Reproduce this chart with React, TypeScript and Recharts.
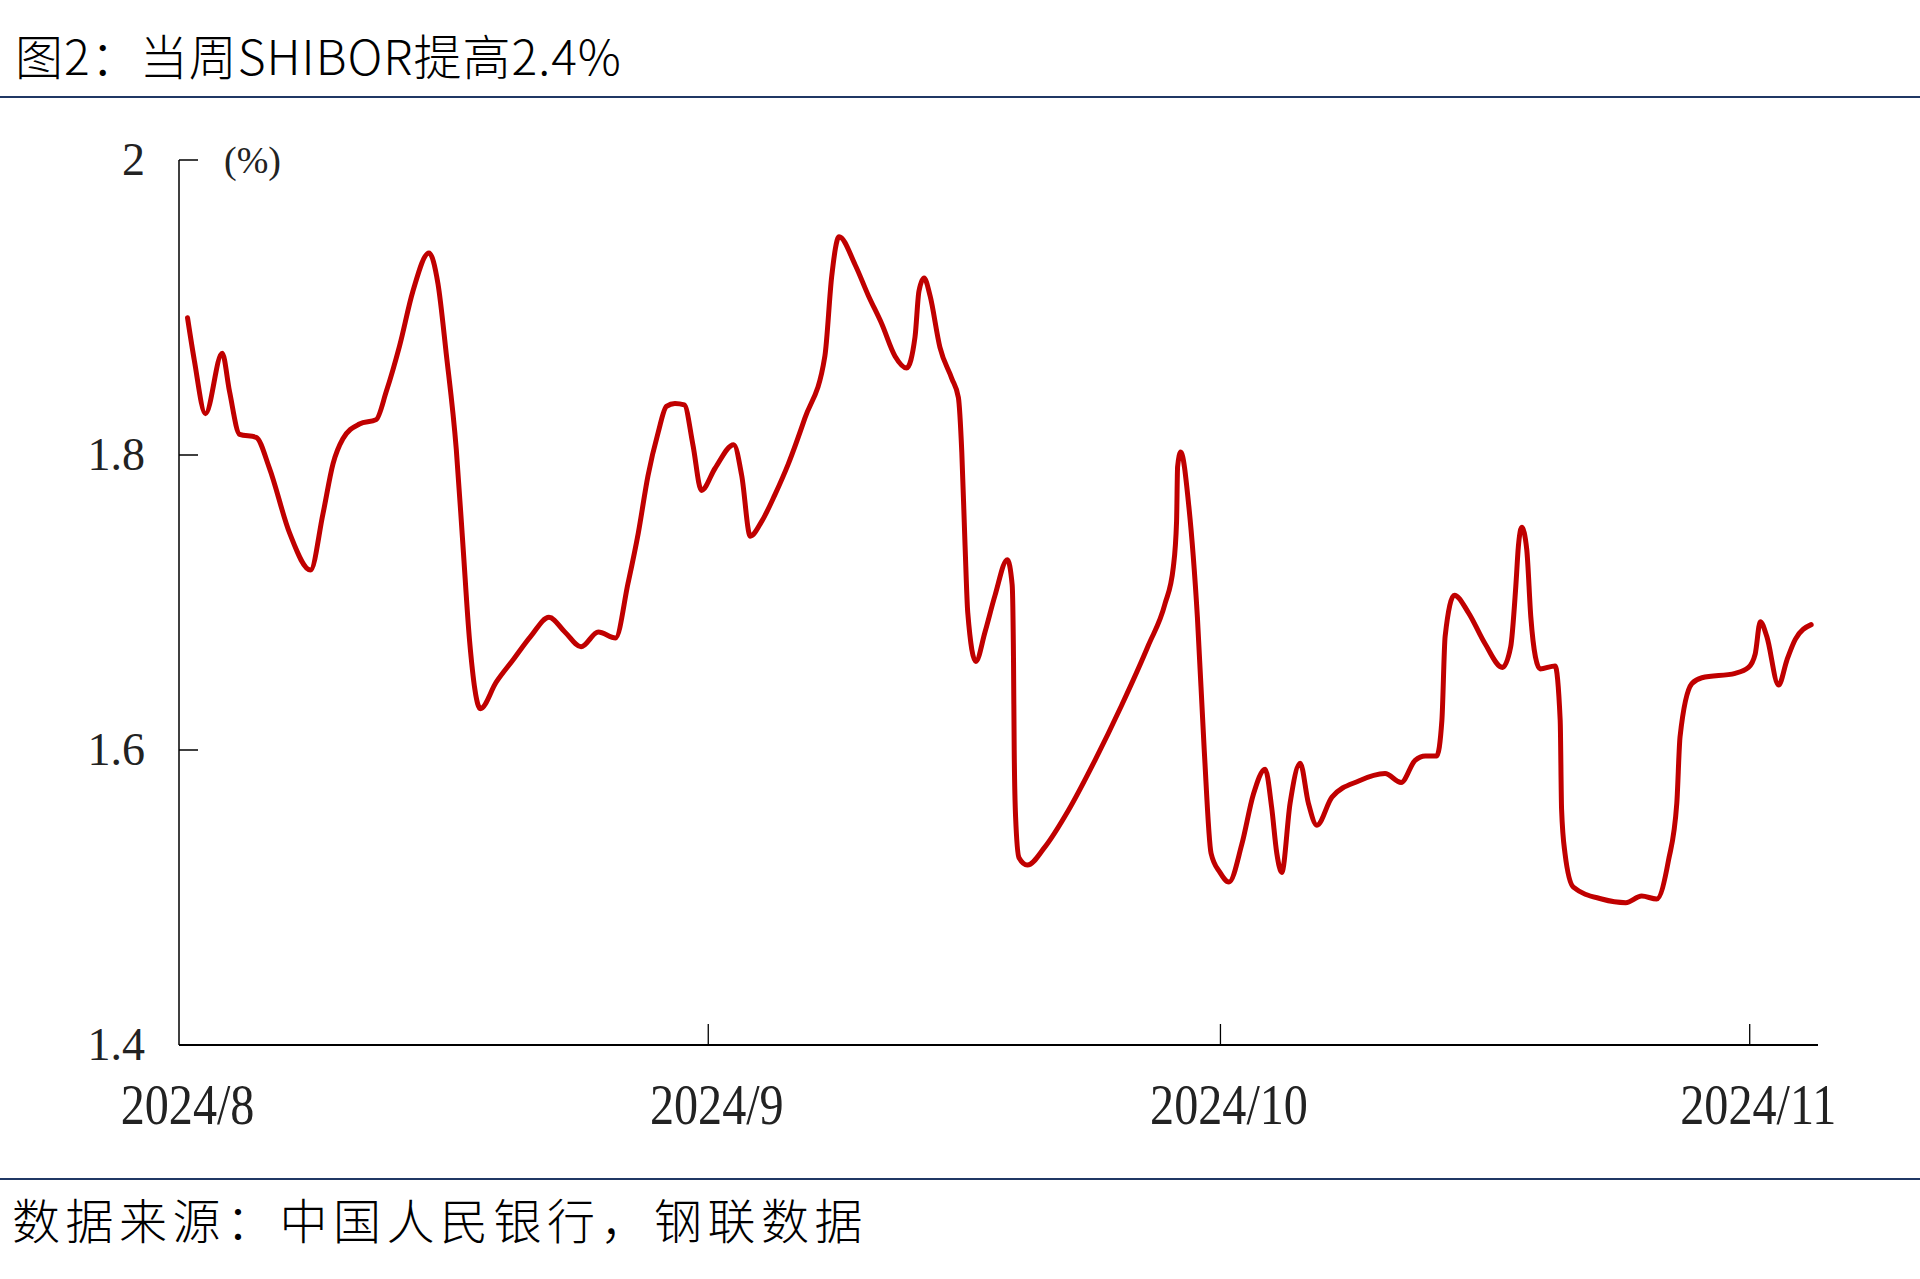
import React from 'react';
import { LineChart, Line, XAxis, YAxis } from 'recharts';

// day index (0 = 2024/8/1) and SHIBOR (%)
const days = [
  0, 0.4, 1.05, 2.03, 2.46, 3.05, 4.02, 4.8, 5.98, 7.2, 7.93, 8.52, 9.1, 10.07, 11.05, 11.64, 12.42, 13.2, 14.14,
  14.67, 15.15, 15.74, 16.13, 16.52, 17.15, 18.08, 19.06, 20.1, 21.17, 22.1, 23.05, 24.06, 25.07, 25.8, 26.4,
  26.97, 27.56, 28.05, 28.55, 29.1, 29.6, 30.1, 30.9, 31.99, 32.46, 32.96, 33.63, 34.4, 35.19, 36.16, 37.33,
  37.73, 38.16, 39.1, 39.88, 40.66, 41.44, 42.12, 42.61, 42.84, 43.14, 43.49, 44.07, 44.76, 45.15, 45.35, 45.54,
  45.7, 46.17, 46.71, 47.3, 48.02, 48.3, 48.38, 48.42, 48.5, 48.7, 49.19, 50.2, 51.59, 53.15, 54.7, 56.28, 57.25,
  57.74, 57.93, 57.99, 58.17, 58.65, 59.15, 59.55, 59.95, 60.47, 61.0, 61.75, 62.43, 63.12, 63.5, 63.8, 64.09,
  64.58, 65.17, 65.65, 66.15, 67.03, 68.6, 70.14, 71.08, 71.9, 72.5, 73.17, 73.47, 73.66, 74.2, 75.03, 76.0,
  77.02, 77.5, 77.8, 77.95, 78.15, 78.44, 78.68, 78.95, 79.22, 80.1, 80.4, 80.48, 80.68, 81.17, 82.83, 84.24,
  85.17, 86.05, 86.74, 87.23, 87.42, 88.11, 88.7, 90.65, 91.43, 91.82, 92.12, 92.5, 93.19, 93.68, 94.17, 95.1,
];
const rates = [
  1.893, 1.864, 1.828, 1.869, 1.843, 1.814, 1.812, 1.791, 1.747, 1.722, 1.76, 1.794, 1.811, 1.821, 1.824, 1.843, 1.874, 1.911, 1.937,
  1.916, 1.869, 1.804, 1.739, 1.674, 1.628, 1.646, 1.661, 1.677, 1.69, 1.68, 1.67, 1.68, 1.676, 1.713, 1.747,
  1.786, 1.815, 1.833, 1.835, 1.834, 1.807, 1.776, 1.791, 1.807, 1.786, 1.745, 1.755, 1.773, 1.794, 1.825, 1.867,
  1.921, 1.948, 1.929, 1.908, 1.889, 1.867, 1.859, 1.88, 1.911, 1.92, 1.908, 1.873, 1.852, 1.839, 1.802, 1.739,
  1.693, 1.66, 1.68, 1.705, 1.729, 1.712, 1.66, 1.6, 1.555, 1.527, 1.522, 1.534, 1.559, 1.593, 1.63, 1.671, 1.699,
  1.724, 1.755, 1.792, 1.802, 1.765, 1.69, 1.6, 1.53, 1.517, 1.5105, 1.536, 1.57, 1.587, 1.561, 1.53, 1.517,
  1.564, 1.591, 1.564, 1.549, 1.568, 1.579, 1.584, 1.578, 1.593, 1.596, 1.596, 1.62, 1.677, 1.705, 1.693, 1.672,
  1.656, 1.67, 1.711, 1.738, 1.751, 1.736, 1.69, 1.663, 1.655, 1.657, 1.62, 1.56, 1.53, 1.507, 1.499, 1.4965,
  1.501, 1.499, 1.525, 1.564, 1.609, 1.645, 1.649, 1.652, 1.656, 1.665, 1.687, 1.677, 1.644, 1.661, 1.675, 1.685,
];
const xTickDays = [0, 31, 61, 92];
const xTickLabels = ['2024/8', '2024/9', '2024/10', '2024/11'];
const yTicks = [1.4, 1.6, 1.8, 2];
const yTickLabels = ['1.4', '1.6', '1.8', '2'];

const data = days.map((d, i) => ({ d, v: rates[i] }));

const W = 1920;
const H = 1279;
const M = { top: 160, right: 102, bottom: 0, left: 0 };
const Y_AXIS_W = 179;
const X_AXIS_H = 234;
const PLOT_LEFT = M.left + Y_AXIS_W;
const PLOT_BOTTOM = H - M.bottom - X_AXIS_H;
const PLOT_W = W - M.left - M.right - Y_AXIS_W;
const X_DOMAIN: [number, number] = [-0.5, 95.5];
const HALF_DAY = PLOT_W / (X_DOMAIN[1] - X_DOMAIN[0]) / 2;
const SERIF = "'Liberation Serif','Times New Roman',serif";
const CJK = "'Noto Sans CJK SC','Noto Sans',sans-serif";

function XTick(props: any) {
  const { x, payload } = props;
  const i = xTickDays.indexOf(payload.value);
  return (
    <g>
      {i > 0 && (
        <line x1={x - HALF_DAY} x2={x - HALF_DAY} y1={PLOT_BOTTOM - 21} y2={PLOT_BOTTOM} stroke="#000" strokeWidth={1.3} />
      )}
      <text
        transform={`translate(${x},${PLOT_BOTTOM + 79}) scale(0.86,1)`}
        textAnchor="middle"
        fontFamily={SERIF}
        fontSize={56}
        fill="#222"
      >
        {xTickLabels[i]}
      </text>
    </g>
  );
}

function YTick(props: any) {
  const { y, payload } = props;
  const i = yTicks.indexOf(payload.value);
  return (
    <g>
      <line x1={PLOT_LEFT} x2={PLOT_LEFT + 19} y1={y} y2={y} stroke="#000" strokeWidth={1.5} />
      <text x={PLOT_LEFT - 34} y={y + 15} textAnchor="end" fontFamily={SERIF} fontSize={46} fill="#222">
        {yTickLabels[i]}
      </text>
    </g>
  );
}

export default function App() {
  return (
    <div style={{ position: 'absolute', left: 0, top: 0, width: W, height: H, background: '#fff', overflow: 'hidden' }}>
      <div
        style={{
          position: 'absolute', left: 15, top: 30, fontFamily: CJK, fontSize: 48, lineHeight: '48px',
          fontWeight: 300, color: '#000', whiteSpace: 'nowrap', letterSpacing: 1,
        }}
      >
        图2：当周SHIBOR提高2.4%
      </div>
      <div style={{ position: 'absolute', left: 0, top: 96, width: W, height: 2, background: '#203864' }} />
      <div style={{ position: 'absolute', left: 0, top: 0 }}>
        <LineChart width={W} height={H} data={data} margin={M}>
          <XAxis
            dataKey="d"
            type="number"
            domain={X_DOMAIN}
            ticks={xTickDays}
            interval={0}
            allowDataOverflow
            tick={<XTick />}
            tickLine={false}
            axisLine={{ stroke: '#000', strokeWidth: 2 }}
            height={X_AXIS_H}
          />
          <YAxis
            type="number"
            domain={[1.4, 2]}
            ticks={yTicks}
            interval={0}
            allowDataOverflow
            tick={<YTick />}
            tickLine={false}
            axisLine={{ stroke: '#000', strokeWidth: 1.5 }}
            width={Y_AXIS_W}
          />
          <Line
            type="monotone"
            dataKey="v"
            stroke="#C00000"
            strokeWidth={5}
            strokeLinejoin="round"
            strokeLinecap="round"
            dot={false}
            activeDot={false}
            isAnimationActive={false}
          />
        </LineChart>
      </div>
      <div
        style={{
          position: 'absolute', left: 224, top: 140, fontFamily: SERIF, fontSize: 38, lineHeight: '40px',
          color: '#222', whiteSpace: 'nowrap',
        }}
      >
        (%)
      </div>
      <div style={{ position: 'absolute', left: 0, top: 1178, width: W, height: 2, background: '#203864' }} />
      <div
        style={{
          position: 'absolute', left: 12, top: 1194, fontFamily: CJK, fontSize: 48, lineHeight: '48px',
          fontWeight: 300, color: '#000', whiteSpace: 'nowrap', letterSpacing: 5.5,
        }}
      >
        数据来源：中国人民银行，钢联数据
      </div>
    </div>
  );
}
